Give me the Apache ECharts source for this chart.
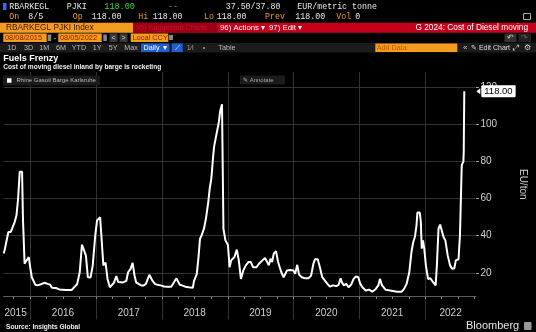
<!DOCTYPE html>
<html><head><meta charset="utf-8">
<script src="https://cdn.jsdelivr.net/npm/echarts@6/dist/echarts.min.js"></script>
<style>html,body{margin:0;padding:0;background:#000;}#c{width:536px;height:332px;}</style>
</head><body><div id="c"></div>
<script>
// ---- data ----
const dates = ['2015-08-07','2015-08-12','2015-08-20','2015-09-02','2015-09-15','2015-09-26','2015-10-07','2015-10-17','2015-10-26','2015-11-04','2015-11-17','2015-11-22','2015-12-01','2015-12-10','2015-12-24',
'2016-01-01','2016-01-10','2016-01-21','2016-01-30','2016-02-11','2016-03-01','2016-03-10','2016-03-19','2016-04-07','2016-04-20','2016-05-01','2016-05-23','2016-06-10','2016-07-17','2016-08-18','2016-08-30','2016-09-17','2016-10-02','2016-10-14','2016-10-24','2016-11-05','2016-11-16','2016-12-01','2016-12-13','2016-12-27',
'2017-01-06','2017-01-14','2017-01-23','2017-02-01','2017-02-10','2017-02-22','2017-03-05','2017-03-18','2017-03-27','2017-04-09','2017-04-23','2017-05-03','2017-05-12','2017-05-30','2017-06-17','2017-06-27','2017-07-11','2017-07-22','2017-08-02','2017-08-11','2017-08-24','2017-09-07','2017-09-22','2017-10-04','2017-10-23','2017-11-01','2017-11-10','2017-11-23','2017-12-07','2017-12-25',
'2018-01-13','2018-01-31','2018-02-21','2018-03-08','2018-03-22','2018-03-30','2018-04-10','2018-04-22','2018-05-10','2018-05-29','2018-06-21','2018-06-28','2018-07-13','2018-07-22','2018-07-31','2018-08-09','2018-08-22','2018-09-02','2018-09-15','2018-09-23','2018-10-02','2018-10-11','2018-10-17','2018-10-26','2018-11-04','2018-11-13','2018-11-20','2018-11-30','2018-12-05','2018-12-08','2018-12-19',
'2019-01-02','2019-01-11','2019-01-20','2019-02-07','2019-02-20','2019-03-03','2019-03-15','2019-03-28','2019-04-11','2019-04-26','2019-05-09','2019-05-21','2019-06-09','2019-06-23','2019-07-12','2019-07-26','2019-08-08','2019-08-17','2019-08-26','2019-09-04','2019-09-13','2019-09-26','2019-10-07','2019-10-16','2019-10-25','2019-11-07','2019-11-16','2019-11-25','2019-12-13',
'2020-01-01','2020-01-10','2020-01-21','2020-02-01','2020-02-16','2020-03-05','2020-03-23','2020-04-07','2020-04-20','2020-04-29','2020-05-14','2020-05-26','2020-06-08','2020-06-23','2020-07-07','2020-07-20','2020-08-07','2020-08-25','2020-09-07','2020-09-18','2020-09-25','2020-10-06','2020-10-19','2020-11-01','2020-11-15','2020-11-29','2020-12-12','2020-12-25',
'2021-01-05','2021-01-17','2021-02-05','2021-02-23','2021-03-13','2021-04-01','2021-04-15','2021-04-24','2021-05-06','2021-05-25','2021-06-21','2021-07-27','2021-08-23','2021-09-05','2021-09-19','2021-10-04','2021-10-16','2021-10-26','2021-11-04','2021-11-13','2021-11-18','2021-12-01','2021-12-07','2021-12-12','2021-12-19','2021-12-26',
'2022-01-04','2022-01-16','2022-01-29','2022-02-13','2022-02-27','2022-03-06','2022-03-15','2022-03-24','2022-04-04','2022-04-12','2022-04-22','2022-05-05','2022-05-18','2022-05-29','2022-06-11','2022-06-19','2022-07-04','2022-07-12','2022-07-19','2022-07-22','2022-07-31','2022-08-02','2022-08-05'];
const values = [30.5,32,33,42,42,44.7,47.4,51,60,74.5,74.5,49,24.9,25,28.5,
23,17.6,17.5,13.5,13.2,13.8,13.2,14.6,14,13.6,11.9,11.8,11,10.7,10.7,12,13.8,20.3,35.2,34.9,29.4,17.6,17.5,24,40.2,
48.3,47.5,50,50,24,25.5,16.7,12.2,12.2,14.6,18.2,15,14,14.8,15.6,20.3,22.1,25.4,18.4,14.8,14,13.2,13.2,14,18.9,18.9,15.6,14,13.5,13.2,
12.6,12.5,12.5,14.8,17,16.7,13.5,13.2,12.5,12.2,11.9,15.6,19.3,27.6,38.4,40.2,43.8,49.3,58.3,65.5,71,81.8,88,92.6,97.1,101.6,107.4,111,110.9,43.8,37.5,
35,23,26.7,28.5,32.5,26.8,16.7,21.2,24,25.8,25.8,23,23,24.9,26.7,28,25.8,24,27.6,25.8,30.3,31.7,25.8,24.9,20.3,17.6,17.6,21.2,21.5,
21.2,19.4,24.3,18.9,17.6,17,17,18.4,24.9,27.3,27.3,23,17.6,15.8,14,12.5,13.2,12.8,13.5,17,14.8,13.2,14,12.2,13.5,16.7,18,17.6,
14,12.2,10.4,10.9,9.8,11.3,13.2,16.7,13.2,10.9,10.4,9.8,9.8,11.3,14,20.3,31.2,36.6,39.3,45.6,52.5,52.5,47.5,33,37.5,33,
24,16.7,17,14.9,13.2,24,43.8,46,46,39.3,37.5,29.4,24,22.2,22.5,26.7,27.3,40.2,67.3,78.2,80,85.4,118];
const seriesName = 'Rhine Gasoil Barge Karlsruhe';
const yTicks = [20, 40, 60, 80, 100, 120];
const yearStarts = ['2016-01-01','2017-01-01','2018-01-01','2019-01-01','2020-01-01','2021-01-01','2022-01-01'];
const yearLabels = ['2015','2016','2017','2018','2019','2020','2021','2022'];
const yearLabelDates = ['2015-10-12','2016-07-01','2017-07-01','2018-07-01','2019-07-01','2020-07-01','2021-07-01','2022-05-21'];
const quarterTicks = ['2015-10-01','2016-01-01','2016-04-01','2016-07-01','2016-10-01','2017-01-01','2017-04-01','2017-07-01','2017-10-01',
'2018-01-01','2018-04-01','2018-07-01','2018-10-01','2019-01-01','2019-04-01','2019-07-01','2019-10-01','2020-01-01','2020-04-01','2020-07-01','2020-10-01',
'2021-01-01','2021-04-01','2021-07-01','2021-10-01','2022-01-01','2022-04-01','2022-07-01','2022-10-01'];
const xMin = '2015-08-06', xMax = '2022-10-09';

// ---- build ----
const F = '"Liberation Sans", Arial, sans-serif';
const M = '"Liberation Mono", "DejaVu Sans Mono", monospace';
const ts = d => echarts.time.parse(d).getTime();
const data = dates.map((d, i) => [ts(d), values[i]]);
const labelTs = yearLabelDates.map(ts);
const last = data[data.length - 1];

function R(x, y, w, h, fill, r) { return { type: 'rect', silent: true, shape: { x, y, width: w, height: h, r: r || 0 }, style: { fill } }; }
function T(x, y, text, fill, size, opt) {
  opt = opt || {};
  return { type: 'text', silent: true, x, y, style: { text, fill, font: (opt.bold ? 'bold ' : '') + size + 'px ' + (opt.mono ? M : F), align: opt.align || 'left', verticalAlign: 'middle' } };
}
const OR = '#f39c1e', RED = '#c4001c', W = '#e6e6e6';
const mo = { mono: 1 };
const g = [
  R(3, 3, 3.5, 7, '#2f6bff'),
  T(9.3, 6.5, 'RBARKEGL', W, 8.3, mo),
  T(66.7, 6.5, 'PJKI', W, 8.3, mo),
  T(104.3, 6.5, '118.00', '#3fd23f', 8.5, mo),
  T(168, 6.5, '--', '#999', 8.3, mo),
  T(225.7, 6.5, '37.50/37.80', W, 8.3, mo),
  T(297.3, 6.5, 'EUR/metric tonne', W, 8.3, mo),
  T(9.3, 16.7, 'On', OR, 8.3, mo), T(28.3, 16.7, '8/5', W, 8.3, mo),
  T(72.7, 16.7, 'Op', OR, 8.3, mo), T(91.7, 16.7, '118.00', W, 8.3, mo),
  T(138.3, 16.7, 'Hi', OR, 8.3, mo), T(152.7, 16.7, '118.00', W, 8.3, mo),
  T(204, 16.7, 'Lo', OR, 8.3, mo), T(216.7, 16.7, '118.00', W, 8.3, mo),
  T(265, 16.7, 'Prev', OR, 8.3, mo), T(295.3, 16.7, '118.00', W, 8.3, mo),
  T(336.3, 16.7, 'Vol', OR, 8.3, mo), T(355.3, 16.7, '0', W, 8.3, mo),
  { type: 'rect', silent: true, shape: { x: 523.5, y: 13.5, width: 7, height: 6 }, style: { fill: 'none', stroke: '#aaa', lineWidth: 1 } },
  R(0, 22.7, 133, 10, OR), T(6, 27.8, 'RBARKEGL PJKI Index', '#3a1200', 8.3),
  R(133, 22.7, 403, 10, RED), R(133, 22.7, 84, 10, '#9a0016'),
  T(136, 27.8, '95) Suggested Charts', '#c8102a', 7.3),
  T(220, 27.8, '96) Actions ▾', '#fff', 7.8), T(269, 27.8, '97) Edit ▾', '#fff', 7.8),
  T(528, 27.8, 'G 2024: Cost of Diesel moving', '#fff', 8.3, { align: 'right' }),
  R(3.3, 33.5, 43.4, 8.5, OR), T(5, 37.9, '08/08/2015', '#8b1a00', 7.4),
  R(47.7, 34.5, 3.5, 6.5, '#888'), T(53.5, 37.9, '-', '#ddd', 8),
  R(58.3, 33.5, 43.4, 8.5, OR), T(60, 37.9, '08/05/2022', '#8b1a00', 7.4),
  R(103.3, 34.5, 3.5, 6.5, '#888'),
  R(109.5, 33.5, 8, 8.5, '#3a3a3a'), T(113.5, 37.9, '<', '#ddd', 7, { align: 'center' }),
  R(119.5, 33.5, 8, 8.5, '#3a3a3a'), T(123.5, 37.9, '>', '#ddd', 7, { align: 'center' }),
  R(130.7, 33.5, 37.6, 8.5, OR), T(132.5, 37.9, 'Local CCY', '#8b1a00', 7.4),
  R(169, 35, 4, 5, '#888'),
  R(504.5, 33.5, 12, 8.5, '#333'), T(510.5, 37.9, '↶', '#ccc', 8, { align: 'center' }),
  R(518.5, 33.5, 12.5, 8.5, '#222'), T(524.7, 37.9, '↷', '#666', 8, { align: 'center' }),
  R(0, 43, 536, 9.5, '#1b1b1b'),
  T(7.3, 47.7, '1D', '#bbb', 7.2), T(24, 47.7, '3D', '#bbb', 7.2), T(39.3, 47.7, '1M', '#bbb', 7.2),
  T(56, 47.7, '6M', '#bbb', 7.2), T(71.7, 47.7, 'YTD', '#bbb', 7.2), T(92.7, 47.7, '1Y', '#bbb', 7.2),
  T(108.7, 47.7, '5Y', '#bbb', 7.2), T(124.3, 47.7, 'Max', '#bbb', 7.2),
  R(141, 43.5, 28.3, 8.5, '#1f5fcf'), T(143.5, 47.7, 'Daily ▼', '#fff', 7.2),
  R(171.7, 43.5, 11, 8.5, '#1f5fcf'), T(177.2, 47.7, '⟋', '#fff', 7, { align: 'center' }),
  T(186.7, 47.7, '1⁄l', '#999', 7.2), T(202.7, 47.7, '•', '#999', 7.2), T(218.3, 47.7, 'Table', '#bbb', 7.2),
  R(375.3, 43.5, 82, 8.5, OR), T(376.8, 47.7, 'Add Data', '#c85a00', 7.2),
  T(463, 47.7, '«', '#ccc', 8), T(471, 47.7, '✎ Edit Chart', '#ddd', 7),
  T(516, 47.7, '⤢', '#ccc', 7.5, { align: 'center' }), T(527, 47.7, '⚙', '#ccc', 8, { align: 'center' }),
  T(3.3, 58.6, 'Fuels Frenzy', '#fff', 9, { bold: 1 }),
  T(3.3, 66.8, 'Cost of moving diesel inland by barge is rocketing', '#f0f0f0', 6.6, { bold: 1 }),
  R(240, 75.5, 45, 9, '#1b1b1b'), T(243, 80.2, '✎ Annotate', '#aaa', 6),
  T(6, 326.7, 'Source: Insights Global', '#f0f0f0', 6.6, { bold: 1 }),
  T(466, 326.2, 'Bloomberg', '#e6e6e6', 11),
  R(524, 322, 7.5, 8, '#9a9a9a', 1)
];

const chart = echarts.init(document.getElementById('c'), null, { renderer: 'canvas' });
chart.setOption({
  backgroundColor: '#000',
  animation: false,
  textStyle: { fontFamily: F },
  grid: { left: 3.5, right: 52, top: 72, bottom: 35.5, containLabel: false },
  legend: {
    data: [seriesName], left: 3, top: 75.5, padding: [2, 4, 2, 4], icon: 'rect',
    itemWidth: 4.5, itemHeight: 4.5, backgroundColor: '#1b1b1b',
    textStyle: { color: '#bbb', fontSize: 6, fontFamily: F }
  },
  xAxis: [{
    type: 'value', min: ts(xMin), max: ts(xMax), position: 'bottom',
    axisLine: { show: true, lineStyle: { color: '#5e5e5e', width: 1 } },
    axisTick: { show: true, customValues: yearStarts.map(ts), length: 23, lineStyle: { color: '#333' } },
    splitLine: { show: true, lineStyle: { color: '#333', width: 1 } },
    axisLabel: {
      customValues: labelTs, color: '#cfcfcf', fontSize: 10, margin: 12, fontFamily: F,
      formatter: function (v) { const i = labelTs.indexOf(+v); return i >= 0 ? yearLabels[i] : ''; }
    }
  }, {
    type: 'value', min: ts(xMin), max: ts(xMax), position: 'bottom', gridIndex: 0,
    axisLine: { show: false },
    axisTick: { show: true, customValues: quarterTicks.map(ts), length: 2.5, lineStyle: { color: '#888' } },
    splitLine: { show: false },
    axisLabel: { show: false }
  }],
  yAxis: {
    type: 'value', position: 'right', min: 7.2, max: 128.4,
    name: 'EU/ton', nameLocation: 'middle', nameGap: 42, nameRotate: -90,
    nameTextStyle: { color: '#cfcfcf', fontSize: 10, fontFamily: F },
    axisLine: { show: false },
    axisTick: { show: true, customValues: yTicks, length: 3, lineStyle: { color: '#999' } },
    axisLabel: { customValues: yTicks, color: '#cfcfcf', fontSize: 10, margin: 4.5, fontFamily: F },
    splitLine: { show: true, lineStyle: { color: '#333', width: 1 } }
  },
  series: [{
    name: seriesName, type: 'line', data: data, showSymbol: false, symbol: 'none',
    itemStyle: { color: '#fff' },
    lineStyle: { color: '#fff', width: 2 },
    z: 3,
    endLabel: {
      show: true, distance: 17, formatter: p => p.value[1].toFixed(2),
      backgroundColor: '#fff', color: '#000', fontSize: 9.5, fontFamily: F,
      padding: [1.5, 3, 0.5, 3], borderRadius: 1
    },
    markPoint: {
      silent: true, symbol: 'triangle', symbolSize: [6, 4], symbolRotate: 90, symbolOffset: [14, 0],
      itemStyle: { color: '#fff' }, label: { show: false },
      data: [{ coord: last }]
    }
  }],
  graphic: g
});
</script></body></html>
